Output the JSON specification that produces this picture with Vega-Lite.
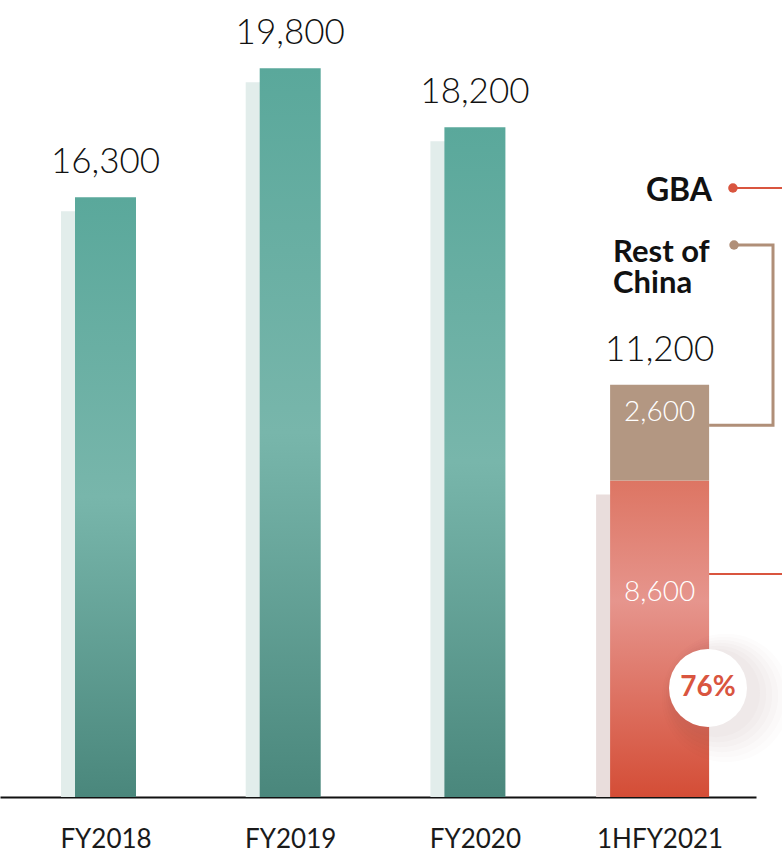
{
  "$schema": "https://vega.github.io/schema/vega-lite/v6.json",
  "width": 756,
  "height": 797,
  "autosize": {"type": "none"},
  "padding": {"left": 0, "top": 0, "right": 26, "bottom": 58},
  "background": "white",
  "config": {"view": {"stroke": null}, "font": "Lato"},
  "data": {
    "values": [
      {"period": "FY2018", "pos": 0, "series": "Total", "val": 16300},
      {"period": "FY2019", "pos": 1, "series": "Total", "val": 19800},
      {"period": "FY2020", "pos": 2, "series": "Total", "val": 18200},
      {"period": "1HFY2021", "pos": 3, "series": "GBA", "val": 8600},
      {"period": "1HFY2021", "pos": 3, "series": "Rest of China", "val": 2600}
    ]
  },
  "encoding": {
    "x": {
      "field": "pos",
      "type": "quantitative",
      "scale": {"domain": [-0.5712, 3.5219], "nice": false, "zero": false, "padding": 0},
      "axis": {
        "values": [0, 1, 2, 3],
        "labelExpr": "['FY2018','FY2019','FY2020','1HFY2021'][datum.value]",
        "title": null,
        "grid": false,
        "ticks": false,
        "domainColor": "#111111",
        "domainWidth": 2,
        "labelFont": "Lato",
        "labelFontSize": 26,
        "labelColor": "#1a1a1a",
        "labelPadding": 29,
        "labelFlush": false
      }
    },
    "y": {
      "field": "val",
      "type": "quantitative",
      "scale": {"domain": [0, 21658], "nice": false, "padding": 0},
      "axis": null
    }
  },
  "layer": [
    {
      "transform": [{"filter": "datum.pos < 3"}],
      "mark": {"type": "bar", "width": 61, "xOffset": -14, "yOffset": 14, "clip": true, "color": "#e2edeb"}
    },
    {
      "transform": [{"filter": "datum.series == 'GBA'"}],
      "mark": {"type": "bar", "width": 99, "xOffset": -14, "yOffset": 14, "clip": true, "color": "#e9dddc"}
    },
    {
      "transform": [{"filter": "datum.pos < 3"}],
      "mark": {
        "type": "bar",
        "width": 61,
        "color": {
          "gradient": "linear", "x1": 0, "y1": 0, "x2": 0, "y2": 1,
          "stops": [
            {"offset": 0, "color": "#5aa89b"},
            {"offset": 0.5, "color": "#78b6ab"},
            {"offset": 1, "color": "#4a877c"}
          ]
        }
      }
    },
    {
      "transform": [{"filter": "datum.series == 'GBA'"}],
      "mark": {
        "type": "bar",
        "width": 99,
        "color": {
          "gradient": "linear", "x1": 0, "y1": 0, "x2": 0, "y2": 1,
          "stops": [
            {"offset": 0, "color": "#dd7563"},
            {"offset": 0.38, "color": "#e6958d"},
            {"offset": 1, "color": "#d44d36"}
          ]
        }
      }
    },
    {
      "transform": [
        {"stack": "val", "groupby": ["pos"], "as": ["v0", "v1"], "sort": [{"field": "series", "order": "ascending"}]},
        {"filter": "datum.series == 'Rest of China'"}
      ],
      "mark": {"type": "bar", "width": 99, "color": "#b39782"},
      "encoding": {
        "y": {"field": "v1", "type": "quantitative", "axis": null},
        "y2": {"field": "v0"}
      }
    },
    {
      "transform": [{"aggregate": [{"op": "sum", "field": "val", "as": "total"}], "groupby": ["pos"]}],
      "mark": {"type": "text", "baseline": "alphabetic", "dy": -24, "fontSize": 35, "fontWeight": 300, "color": "#111111"},
      "encoding": {
        "y": {"field": "total", "type": "quantitative", "axis": null},
        "text": {"field": "total", "type": "quantitative", "format": ","}
      }
    },
    {
      "transform": [
        {"stack": "val", "groupby": ["pos"], "as": ["v0", "v1"], "sort": [{"field": "series", "order": "ascending"}]},
        {"filter": "datum.series == 'Rest of China'"}
      ],
      "mark": {"type": "text", "baseline": "middle", "dy": 28, "fontSize": 28, "fontWeight": 300, "color": "white"},
      "encoding": {
        "y": {"field": "v1", "type": "quantitative", "axis": null},
        "text": {"field": "val", "type": "quantitative", "format": ","}
      }
    },
    {
      "transform": [{"filter": "datum.series == 'GBA'"}],
      "mark": {"type": "text", "baseline": "middle", "dy": 112, "fontSize": 28, "fontWeight": 300, "color": "white"},
      "encoding": {
        "text": {"field": "val", "type": "quantitative", "format": ","}
      }
    },
    {
      "data": {"values": [{"pos": 3.262, "val": 2962}]},
      "layer": [
        {"mark": {"type": "point", "shape": "circle", "filled": true, "color": "#7a4a44", "opacity": 0.015, "size": 16500, "xOffset": 18, "yOffset": 10}},
        {"mark": {"type": "point", "shape": "circle", "filled": true, "color": "#7a4a44", "opacity": 0.015, "size": 14500, "xOffset": 16, "yOffset": 9}},
        {"mark": {"type": "point", "shape": "circle", "filled": true, "color": "#7a4a44", "opacity": 0.018, "size": 12600, "xOffset": 14, "yOffset": 8}},
        {"mark": {"type": "point", "shape": "circle", "filled": true, "color": "#7a4a44", "opacity": 0.02, "size": 10900, "xOffset": 12, "yOffset": 7}},
        {"mark": {"type": "point", "shape": "circle", "filled": true, "color": "#7a4a44", "opacity": 0.022, "size": 9300, "xOffset": 10, "yOffset": 6}},
        {"mark": {"type": "point", "shape": "circle", "filled": true, "color": "#7a4a44", "opacity": 0.025, "size": 7800, "xOffset": 8, "yOffset": 5}},
        {"mark": {"type": "point", "shape": "circle", "filled": true, "color": "#ffffff", "opacity": 1, "size": 6082}},
        {
          "mark": {"type": "text", "text": "76%", "baseline": "middle", "fontSize": 28, "fontWeight": "bold", "color": "#d9553f"}
        }
      ]
    },
    {
      "data": {"values": [{"label": "GBA", "pos": 3.284, "val": 16467}]},
      "mark": {"type": "text", "align": "right", "baseline": "middle", "fontSize": 32, "fontWeight": "bold", "color": "#111111"},
      "encoding": {"text": {"field": "label"}}
    },
    {
      "data": {"values": [{"label": ["Rest of", "China"], "pos": 2.748, "val": 14538}]},
      "mark": {"type": "text", "align": "left", "baseline": "alphabetic", "lineHeight": 31, "fontSize": 31, "fontWeight": "bold", "color": "#111111"},
      "encoding": {"text": {"field": "label"}}
    },
    {
      "data": {"values": [{"pos": 3.397, "pos2": 3.663, "val": 16549}, {"pos": 3.268, "pos2": 3.663, "val": 6060}]},
      "mark": {"type": "rule", "color": "#d9553f", "strokeWidth": 2},
      "encoding": {"x2": {"field": "pos2"}}
    },
    {
      "data": {"values": [
        {"pos": 3.403, "val": 15000, "o": 0},
        {"pos": 3.614, "val": 15000, "o": 1},
        {"pos": 3.614, "val": 10100, "o": 2},
        {"pos": 3.268, "val": 10100, "o": 3}
      ]},
      "mark": {"type": "line", "color": "#b08f78", "strokeWidth": 3},
      "encoding": {"order": {"field": "o", "type": "quantitative"}}
    },
    {
      "data": {"values": [{"pos": 3.397, "val": 16549, "c": "GBA"}]},
      "mark": {"type": "point", "shape": "circle", "filled": true, "opacity": 1, "size": 90, "color": "#d9553f"}
    },
    {
      "data": {"values": [{"pos": 3.403, "val": 15000, "c": "Rest of China"}]},
      "mark": {"type": "point", "shape": "circle", "filled": true, "opacity": 1, "size": 90, "color": "#b08f78"}
    }
  ]
}
